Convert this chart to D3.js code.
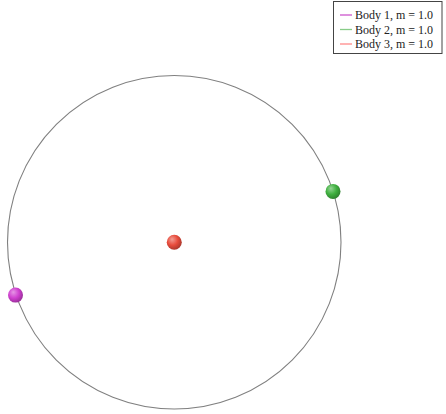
<!DOCTYPE html>
<html><head><meta charset="utf-8">
<script src="https://cdn.jsdelivr.net/npm/d3@7"></script>
<style>body{margin:0;background:#fff;}svg{display:block;}</style>
</head><body>
<svg id="chart" width="446" height="414"></svg>
<script>
const bodyNames = ["Body 1, m = 1.0", "Body 2, m = 1.0", "Body 3, m = 1.0"];
const bodyX = [-0.952, 0.952, 0.0];
const bodyY = [-0.317, 0.305, 0.0];
const bodyColors = ["#d040d0", "#40b040", "#e84c3c"];
const legendColors = ["#cc55cc", "#88cc88", "#ff8a8a"];
const orbitRadius = [1.0];

const svg = d3.select("#chart");
const x = d3.scaleLinear().domain([-1, 1]).range([7.5, 341]);
const y = d3.scaleLinear().domain([-1, 1]).range([409, 75.5]);

const defs = svg.append("defs");
bodyColors.forEach((c, i) => {
  const g = defs.append("radialGradient").attr("id", "g" + i)
    .attr("cx", "0.4").attr("cy", "0.38").attr("r", "0.65").attr("fx", "0.35").attr("fy", "0.3");
  g.append("stop").attr("offset", "0").attr("stop-color", d3.interpolateRgb(c, "#fff")(0.45));
  g.append("stop").attr("offset", "0.55").attr("stop-color", c);
  g.append("stop").attr("offset", "1").attr("stop-color", d3.color(c).darker(0.9));
});

svg.selectAll("circle.orbit").data(orbitRadius).join("circle")
  .attr("class", "orbit")
  .attr("cx", x(0)).attr("cy", y(0))
  .attr("r", d => x(d) - x(0))
  .attr("fill", "none").attr("stroke", "#808080").attr("stroke-width", 1.1);

const bodies = bodyNames.map((n, i) => ({n, x: bodyX[i], y: bodyY[i], i}));
svg.selectAll("circle.body").data(bodies).join("circle")
  .attr("class", "body")
  .attr("cx", d => x(d.x)).attr("cy", d => y(d.y))
  .attr("r", 7.5)
  .attr("fill", d => `url(#g${d.i})`);

const lg = svg.append("g");
lg.append("rect").attr("x", 333.5).attr("y", 1.5).attr("width", 108.5).attr("height", 52)
  .attr("fill", "#fff").attr("stroke", "#444").attr("stroke-width", 1);
bodyNames.forEach((n, i) => {
  const yy = 15 + i * 14.5;
  lg.append("line").attr("x1", 340).attr("x2", 352).attr("y1", yy).attr("y2", yy)
    .attr("stroke", legendColors[i]).attr("stroke-width", 1.3);
  lg.append("text").attr("x", 355).attr("y", yy + 4).text(n)
    .attr("font-family", "'Liberation Serif', 'DejaVu Serif', serif")
    .attr("font-size", 12).attr("fill", "#222");
});
</script>
</body></html>
